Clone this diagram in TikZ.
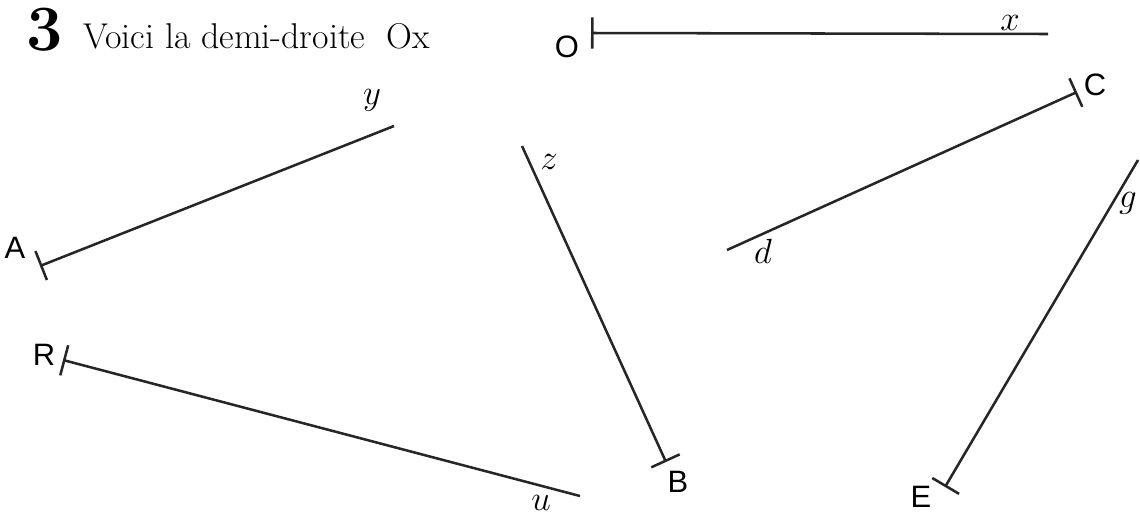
\documentclass[tikz,border=0pt]{standalone}
\usepackage{fontspec}
\usepackage{tikz}
\usetikzlibrary{arrows.meta,positioning}
\newfontfamily\lblfont{Liberation Sans}

\begin{document}
\begin{tikzpicture}[
  ray/.style={{Bar[width=0.78cm]}-, line width=1.8pt, black!85},
  pt/.style={font=\lblfont\fontsize{22}{24}\selectfont, inner sep=0pt},
  dir/.style={font=\fontsize{26}{28}\selectfont, inner sep=0pt},
  title/.style={font=\fontsize{25.5}{28}\selectfont, inner sep=0pt, anchor=base west}
]
\useasboundingbox (0,0) rectangle (28.5,-12.925);

\node[font=\bfseries\fontsize{46}{50}\selectfont, inner sep=0pt] (num) at (1.125,-0.75) {3};
\node[title] (ttl) at (2.075,-1.2) {Voici la demi-droite\ \ Ox};

\coordinate (O) at (14.775,-0.825);
\coordinate (x) at (26.2,-0.85);
\coordinate (A) at (1.0,-6.65);
\coordinate (y) at (9.85,-3.15);
\coordinate (B) at (16.65,-11.55);
\coordinate (z) at (13.05,-3.65);
\coordinate (C) at (26.925,-2.3);
\coordinate (d) at (18.175,-6.25);
\coordinate (E) at (23.625,-12.175);
\coordinate (g) at (28.45,-4.0);
\coordinate (R) at (1.575,-9.0);
\coordinate (u) at (14.5,-12.4);

\draw[ray] (O) -- (x);
\draw[ray] (A) -- (y);
\draw[ray] (B) -- (z);
\draw[ray] (C) -- (d);
\draw[ray] (E) -- (g);
\draw[ray] (R) -- (u);

\node[pt] (lO) at (14.175,-1.175) {O};
\node[pt] (lA) at (0.375,-6.2) {A};
\node[pt] (lB) at (16.95,-12.05) {B};
\node[pt] (lC) at (27.375,-2.125) {C};
\node[pt] (lE) at (23.025,-12.425) {E};
\node[pt] (lR) at (1.1,-8.875) {R};

\node[dir] (lx) at (25.25,-0.58) {$x$};
\node[dir] (ly) at (9.3,-2.5) {$y$};
\node[dir] (lz) at (13.725,-4.05) {$z$};
\node[dir] (ld) at (19.075,-6.275) {$d$};
\node[dir] (lg) at (28.2,-5.075) {$g$};
\node[dir] (lu) at (13.525,-12.58) {$u$};
\end{tikzpicture}
\end{document}
